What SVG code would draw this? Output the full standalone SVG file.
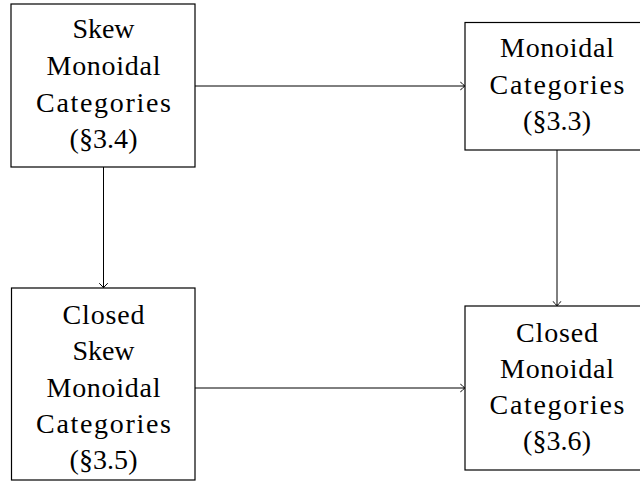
<svg xmlns="http://www.w3.org/2000/svg" width="640" height="489" viewBox="0 0 640 489">
  <style>
    .box { fill: #ffffff; stroke: #000000; stroke-width: 1.2; }
    .lbl { font-family: "Liberation Serif", "DejaVu Serif", serif; font-size: 28px; fill: #000000; text-anchor: middle; }
    .edge { fill: none; stroke: #000000; stroke-width: 1; }
  </style>
  <defs>
    <marker id="tip" viewBox="-5 -5 7 10" markerWidth="7" markerHeight="10" refX="0" refY="0" orient="auto" markerUnits="userSpaceOnUse">
      <path d="M -4 -4 Q -1 -0.8 0.3 0 Q -1 0.8 -4 4" fill="none" stroke="#000000" stroke-width="1" stroke-linecap="round"/>
    </marker>
  </defs>
  <rect width="640" height="489" fill="#ffffff"/>

  <g id="connectors">
    <line class="edge" x1="195" y1="86" x2="464.5" y2="86" marker-end="url(#tip)"/>
    <line class="edge" x1="103.5" y1="167" x2="103.5" y2="287.5" marker-end="url(#tip)"/>
    <line class="edge" x1="557" y1="150" x2="557" y2="305.5" marker-end="url(#tip)"/>
    <line class="edge" x1="195" y1="388" x2="464.5" y2="388" marker-end="url(#tip)"/>
  </g>

  <g id="skew-monoidal">
    <rect class="box" x="11" y="4" width="184" height="163"/>
    <text class="lbl" x="103.5" y="38" textLength="62" lengthAdjust="spacing">Skew</text>
    <text class="lbl" x="103.5" y="75" textLength="114" lengthAdjust="spacing">Monoidal</text>
    <text class="lbl" x="103.5" y="111.5" textLength="135" lengthAdjust="spacing">Categories</text>
    <text class="lbl" x="103.5" y="148" textLength="68" lengthAdjust="spacing">(§3.4)</text>
  </g>

  <g id="monoidal">
    <rect class="box" x="465" y="22.5" width="184" height="127.5"/>
    <text class="lbl" x="557" y="57" textLength="114" lengthAdjust="spacing">Monoidal</text>
    <text class="lbl" x="557" y="93.5" textLength="135" lengthAdjust="spacing">Categories</text>
    <text class="lbl" x="557" y="130" textLength="68" lengthAdjust="spacing">(§3.3)</text>
  </g>

  <g id="closed-skew-monoidal">
    <rect class="box" x="11.5" y="288" width="183.5" height="192"/>
    <text class="lbl" x="103.5" y="323.5" textLength="82" lengthAdjust="spacing">Closed</text>
    <text class="lbl" x="103.5" y="360" textLength="62" lengthAdjust="spacing">Skew</text>
    <text class="lbl" x="103.5" y="396.5" textLength="114" lengthAdjust="spacing">Monoidal</text>
    <text class="lbl" x="103.5" y="433" textLength="135" lengthAdjust="spacing">Categories</text>
    <text class="lbl" x="103.5" y="469" textLength="68" lengthAdjust="spacing">(§3.5)</text>
  </g>

  <g id="closed-monoidal">
    <rect class="box" x="465" y="306" width="184" height="164"/>
    <text class="lbl" x="557" y="341.5" textLength="82" lengthAdjust="spacing">Closed</text>
    <text class="lbl" x="557" y="377.5" textLength="114" lengthAdjust="spacing">Monoidal</text>
    <text class="lbl" x="557" y="413.5" textLength="135" lengthAdjust="spacing">Categories</text>
    <text class="lbl" x="557" y="450" textLength="68" lengthAdjust="spacing">(§3.6)</text>
  </g>
</svg>
